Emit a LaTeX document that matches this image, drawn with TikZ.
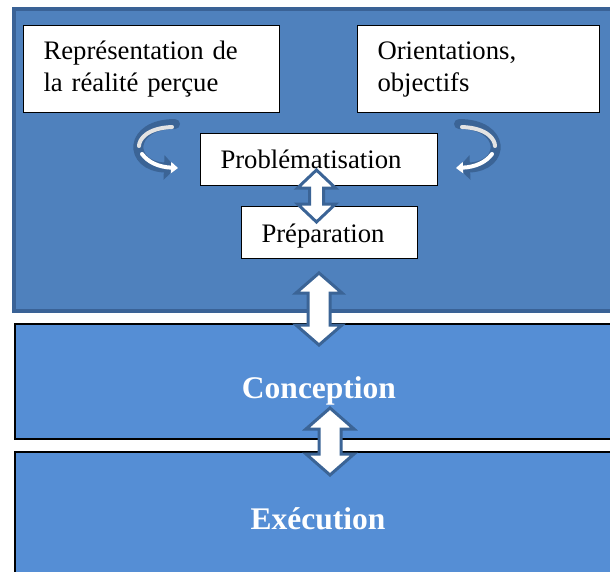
\documentclass[tikz,border=0pt]{standalone}
\usepackage{fontspec}
\setmainfont{Liberation Serif}
\usetikzlibrary{arrows.meta}
\definecolor{panel}{RGB}{79,129,189}
\definecolor{panelborder}{RGB}{58,98,150}
\definecolor{band}{RGB}{85,142,213}
\definecolor{arrowline}{RGB}{59,100,150}
\tikzset{
  whitebox/.style={draw=black, line width=1pt, fill=white, align=left, inner xsep=20pt, inner ysep=0pt,
    font=\fontsize{26.7}{32}\selectfont, anchor=north west},
  bandbox/.style={draw=black, line width=1.5pt, fill=band, anchor=north west},
  bandtext/.style={text=white, font=\fontsize{31.5}{34}\selectfont\bfseries},
  dbl/.style={draw=arrowline, line width=3pt, fill=white, line join=miter},
  curvdark/.style={draw=arrowline, line width=10pt, line cap=round},
  curvlight/.style={draw=white, line width=4pt, line cap=round}
}
% #1 cx, #2 ytop, #3 ybot, #4 half head width, #5 half shaft width, #6 head length
\newcommand{\dblarr}[6]{%
  \filldraw[dbl] (#1,#2) -- (#1+#4,#2+#6) -- (#1+#5,#2+#6) -- (#1+#5,#3-#6) -- (#1+#4,#3-#6)
    -- (#1,#3) -- (#1-#4,#3-#6) -- (#1-#5,#3-#6) -- (#1-#5,#2+#6) -- (#1-#4,#2+#6) -- cycle;}
\begin{document}
\begin{tikzpicture}[x=1pt,y=-1pt]
\useasboundingbox (0,0) rectangle (610,571);
\begin{scope}
\clip (0,0) rectangle (610,571);
% top panel
\fill[panel, draw=panelborder, line width=4.5pt] (14,9) rectangle (640,311);
\node[whitebox, minimum width=256pt, minimum height=87pt, text width=216pt] (rep) at (23,25)
  {Représentation de\\la réalité perçue};
\node[whitebox, minimum width=242pt, minimum height=87pt, text width=202pt] (ori) at (357,25)
  {Orientations,\\objectifs};
\node[whitebox, minimum width=237pt, minimum height=52pt, text width=197pt] (pro) at (200,133)
  {Problématisation};
\node[whitebox, minimum width=176pt, minimum height=52pt, text width=136pt,
      text height=22pt, text depth=2pt] (pre) at (241,206)
  {Préparation};
% curved arrows (left, then mirrored right)
\foreach \s/\c in {1/0, -1/634}{
  \begin{scope}[xshift=\c pt, xscale=\s]
  \draw[curvdark, -{Triangle[length=12pt,width=24pt]}]
    (175,124) .. controls (128,124) and (128,166) .. (176,168);
  \draw[curvlight, draw=white!78!gray]
    (172,127) .. controls (146,128) and (139,140) .. (139,146);
  \draw[curvlight, -{Triangle[length=7pt,width=11pt]}]
    (142,154) .. controls (148,162) and (158,167) .. (178,168);
  \end{scope}
}
% arrow between Problematisation and Preparation
\dblarr{316.5}{170}{222}{19}{7}{18}
% bands
\node[bandbox, minimum width=620pt, minimum height=115pt] (con) at (14,323) {};
\node[bandtext] (conl) at (319,391) {Conception};
\node[bandbox, minimum width=620pt, minimum height=130pt] (exe) at (14,451) {};
\node[bandtext] (exel) at (318,519) {Exécution};
% arrows between layers
\dblarr{319}{273}{345}{23}{11}{20}
\dblarr{330}{408}{475}{24}{11}{21}
\end{scope}
\end{tikzpicture}
\end{document}
